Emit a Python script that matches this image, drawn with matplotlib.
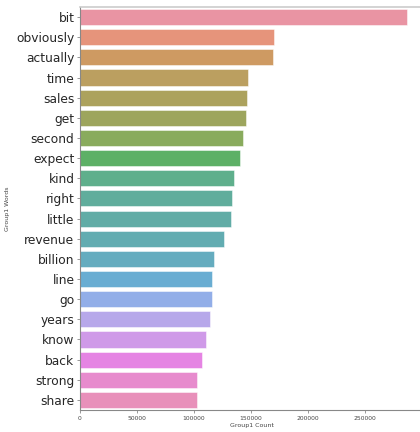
import matplotlib
matplotlib.use("Agg")
import matplotlib.pyplot as plt
import seaborn as sns
import pandas as pd

words = ["bit", "obviously", "actually", "time", "sales", "get", "second", "expect",
         "kind", "right", "little", "revenue", "billion", "line", "go", "years",
         "know", "back", "strong", "share"]
counts = [286800, 170000, 169800, 147400, 146200, 145600, 143000, 140600,
          135400, 133600, 132500, 126600, 117800, 116100, 116000, 113700,
          110500, 107300, 102900, 102800]

df = pd.DataFrame({"Group1 Words": words, "Group1 Count": counts})

fig = plt.figure(figsize=(4.2, 4.32), dpi=100)
ax = fig.add_axes([80/420, 1 - 410/432, 343/420, 403/432])

colors = [sns.desaturate(c, 0.75) for c in sns.husl_palette(len(words))]
ax.barh(range(len(words)), df["Group1 Count"], height=0.8, color=colors,
        alpha=0.85, edgecolor="white", linewidth=0.4)
ax.set_ylim(len(words) - 0.5, -0.5)
ax.set_xlim(0, 301000)
ax.set_yticks(range(len(words)))
ax.set_yticklabels(words, fontsize=8.8, color="#262626")
ax.set_xticks([0, 50000, 100000, 150000, 200000, 250000])
ax.set_xticklabels(["0", "50000", "100000", "150000", "200000", "250000"], fontsize=4.3, color="#444444")
ax.set_xlabel("Group1 Count", fontsize=4.5, color="#444444", labelpad=2)
ax.set_ylabel("Group1 Words", fontsize=4.5, color="#444444")
ax.yaxis.set_label_coords(-0.205, 0.5)
ax.tick_params(axis="y", length=2.5, width=0.6, color="#888888", pad=1.5)
ax.tick_params(axis="x", length=2, width=0.6, color="#888888", pad=2)
for s in ["left", "bottom"]:
    ax.spines[s].set_color("#888888")
    ax.spines[s].set_linewidth(0.8)
ax.spines["top"].set_color("#cccccc")
ax.spines["top"].set_linewidth(1.2)
ax.spines["right"].set_visible(False)

fig.savefig("out.png", dpi=100)
